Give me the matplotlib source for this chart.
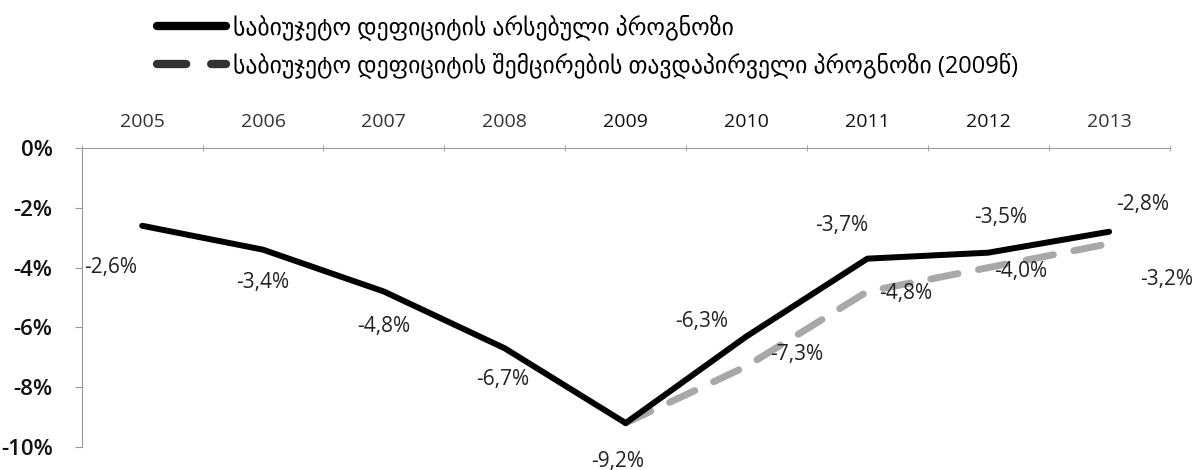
import matplotlib
matplotlib.use("Agg")
import matplotlib.pyplot as plt
from matplotlib.lines import Line2D
import numpy as np

plt.rcParams['font.family'] = ['Open Sans', 'DejaVu Sans']

years = ['2005', '2006', '2007', '2008', '2009', '2010', '2011', '2012', '2013']
current = [-2.6, -3.4, -4.8, -6.7, -9.2, -6.3, -3.7, -3.5, -2.8]
initial_years = ['2009', '2010', '2011', '2012', '2013']
initial = [-9.2, -7.3, -4.8, -4.0, -3.2]

name_current = 'საბიუჯეტო დეფიციტის არსებული პროგნოზი'
name_initial = 'საბიუჯეტო დეფიციტის შემცირების თავდაპირველი პროგნოზი (2009წ)'

# label offsets in pixels
off_current = [(-32, -42), (0, -33), (0, -35), (-2, -31), (-8, -38),
               (-45, 15), (-26, 33), (12, 35), (34, 27)]
off_initial = [None, (50, 12), (38, -2), (32, -4), (58, -36)]


def fmt(v):
    return ('%.1f%%' % v).replace('.', ',')


fig = plt.figure(figsize=(12.02, 4.70), dpi=100)
ax = fig.add_axes([0.068, 0.049, 0.905, 0.636])

xs = np.arange(len(years))
xi = np.array([years.index(y) for y in initial_years])

ax.plot(xs, current, color='black', lw=4.3, solid_capstyle='round', zorder=3)
ax.plot(xi, initial, color='#a8a8a8', lw=5, dashes=(4, 3),
        dash_capstyle='round', zorder=2)

for x, v, o in zip(xs, current, off_current):
    ax.annotate(fmt(v), (x, v), xytext=o, textcoords='offset pixels',
                ha='center', va='center', fontsize=15, color='#222222')
for x, v, o in zip(xi, initial, off_initial):
    if o is None:
        continue
    ax.annotate(fmt(v), (x, v), xytext=o, textcoords='offset pixels',
                ha='center', va='center', fontsize=15, color='#222222')

ax.set_xlim(-0.5, len(years) - 0.5)
ax.set_ylim(-10, 0)
ax.set_yticks(np.arange(-10, 1, 2))
ax.set_yticklabels(['%d%%' % t for t in np.arange(-10, 1, 2)],
                   fontsize=16, color='#111111', fontweight='semibold')

ax.xaxis.tick_top()
ax.set_xticks(xs)
ax.set_xticklabels(years, fontsize=14, color='#333333')
for lab in ax.get_xticklabels()[4:8]:
    lab.set_color('#111111')
ax.set_xticks(np.arange(-0.5, len(years), 1), minor=True)
ax.tick_params(axis='x', which='major', length=0, pad=12)
ax.tick_params(axis='x', which='minor', length=5, direction='inout',
               color='#999999')
ax.tick_params(axis='y', length=5, color='#999999', pad=16)

for s in ['bottom', 'right']:
    ax.spines[s].set_visible(False)
for s in ['top', 'left']:
    ax.spines[s].set_color('#999999')

h1 = Line2D([], [], color='black', lw=6, solid_capstyle='round')
h2 = Line2D([], [], color='#333333', lw=6, dashes=(3.5, 3),
            dash_capstyle='round')
fig.legend(handles=[h1, h2], labels=[name_current, name_initial],
           loc='upper left', bbox_to_anchor=(0.113, 1.015),
           frameon=False, fontsize=17, handlelength=2.9, labelspacing=0.5,
           handletextpad=0.3)

fig.savefig('out.png', dpi=100)
